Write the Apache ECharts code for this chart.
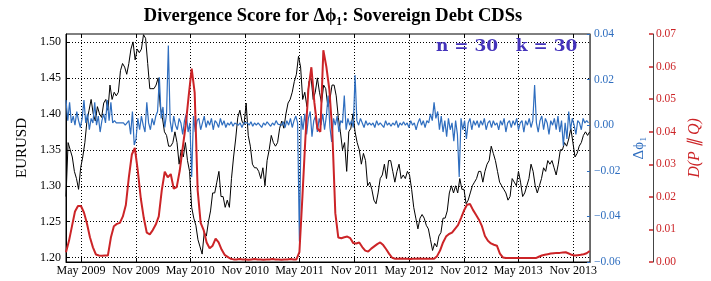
<!DOCTYPE html>
<html><head><meta charset="utf-8">
<script src="https://cdn.jsdelivr.net/npm/echarts@6/dist/echarts.min.js"></script>
<style>html,body{margin:0;padding:0;background:#fff}#c{width:711px;height:281px}</style>
</head><body><div id="c"></div>
<script>
const startDate = '2009-03-12';
const endDate = '2013-12-27';

// EURUSD, one value every 7 days from startDate
const eurusdStepDays = 7;
const eurusd = [
1.285,1.36,1.35,1.34,1.32,1.31,1.295,1.325,1.34,1.36,
1.39,1.405,1.42,1.40,1.39,1.41,1.40,1.395,1.415,1.42,
1.405,1.44,1.42,1.43,1.425,1.43,1.46,1.47,1.465,1.455,
1.47,1.49,1.50,1.475,1.49,1.485,1.49,1.51,1.505,1.47,
1.435,1.435,1.435,1.44,1.45,1.41,1.395,1.375,1.37,1.355,
1.355,1.36,1.375,1.36,1.33,1.35,1.34,1.36,1.335,1.32,
1.27,1.255,1.245,1.225,1.215,1.205,1.235,1.23,1.25,1.265,
1.29,1.29,1.305,1.32,1.285,1.285,1.27,1.28,1.27,1.31,
1.34,1.365,1.395,1.405,1.39,1.385,1.415,1.37,1.355,1.33,
1.325,1.325,1.32,1.31,1.325,1.30,1.335,1.35,1.37,1.36,
1.355,1.36,1.38,1.39,1.38,1.40,1.415,1.42,1.43,1.445,
1.455,1.48,1.465,1.42,1.43,1.41,1.445,1.45,1.42,1.43,
1.45,1.43,1.415,1.44,1.435,1.41,1.42,1.44,1.44,1.425,
1.395,1.375,1.35,1.36,1.32,1.375,1.38,1.40,1.375,1.36,
1.35,1.33,1.345,1.335,1.30,1.305,1.295,1.28,1.275,1.29,
1.31,1.315,1.33,1.31,1.335,1.335,1.32,1.305,1.32,1.33,
1.31,1.315,1.31,1.32,1.315,1.295,1.27,1.255,1.24,1.255,
1.26,1.255,1.245,1.24,1.225,1.21,1.22,1.215,1.23,1.235,
1.255,1.255,1.265,1.29,1.30,1.29,1.30,1.29,1.31,1.295,
1.295,1.275,1.28,1.29,1.30,1.305,1.31,1.32,1.32,1.305,
1.32,1.33,1.335,1.355,1.345,1.335,1.32,1.305,1.30,1.295,
1.29,1.28,1.285,1.31,1.305,1.30,1.32,1.305,1.285,1.29,
1.30,1.31,1.33,1.32,1.30,1.29,1.30,1.31,1.325,1.32,
1.335,1.33,1.335,1.325,1.315,1.33,1.35,1.35,1.36,1.355,
1.365,1.38,1.36,1.34,1.345,1.355,1.36,1.37,1.375,1.37,
1.375
];

// Delta phi_1, one value every 6 days from startDate
const dphiStepDays = 6;
const dphi = [
0.011,0.002,0.010,0.001,0.004,0.000,0.006,0.002,-0.001,0.003,
0.011,0.001,0.005,-0.002,0.003,0.001,0.010,0.000,0.004,-0.003,
0.002,0.005,0.001,0.011,0.002,0.010,0.001,0.002,0.001,0.0005,
0.001,0.0005,0.001,0.000,0.001,0.002,-0.004,0.006,-0.0087,-0.006,
0.003,-0.002,0.004,0.000,-0.003,0.010,0.001,-0.002,0.003,0.000,
0.004,0.006,0.021,0.003,0.008,-0.001,0.005,0.035,0.002,-0.003,
0.004,0.000,-0.002,0.003,0.001,-0.004,0.002,0.005,-0.003,0.001,
-0.0227,0.004,-0.003,0.002,0.003,-0.002,0.001,0.004,-0.001,0.002,
0.000,0.003,-0.002,0.002,0.001,-0.001,0.003,0.000,0.002,-0.001,
0.001,0.000,0.0015,-0.0005,0.001,0.0005,0.000,0.001,-0.001,0.001,
0.0005,0.001,0.000,0.0015,-0.0005,0.001,0.000,0.001,0.0005,-0.001,
0.001,0.000,0.0015,0.0005,-0.0005,0.001,0.000,0.002,0.0005,0.001,
0.000,0.0015,-0.001,0.002,0.000,0.003,-0.001,0.002,0.004,0.001,
-0.051,0.004,-0.002,0.005,-0.004,0.003,0.006,-0.005,0.002,0.004,
-0.003,0.003,0.000,0.005,-0.002,0.004,0.013,-0.001,-0.0073,0.003,
0.000,0.004,-0.003,0.002,0.001,0.013,-0.002,0.003,0.000,0.002,
-0.001,0.022,0.002,0.000,0.003,0.001,-0.001,0.002,0.000,0.001,
0.000,0.001,-0.001,0.002,0.000,0.001,0.0005,-0.001,0.002,0.000,
0.001,-0.0005,0.001,0.000,0.002,-0.001,0.001,0.000,0.0015,0.000,
0.001,-0.001,0.002,0.000,0.001,-0.002,0.001,0.003,0.000,0.002,
-0.001,0.002,0.001,0.005,0.002,0.010,0.003,0.006,-0.002,0.004,
-0.003,0.002,-0.005,0.003,-0.002,0.001,-0.007,0.002,-0.004,-0.0227,
0.003,-0.002,0.002,-0.006,0.001,0.003,-0.002,0.002,0.000,0.002,
-0.001,0.002,0.000,0.003,-0.002,0.001,0.002,-0.001,0.002,0.000,
0.001,-0.002,0.002,0.000,0.003,-0.003,0.001,0.002,-0.001,0.002,
0.000,0.003,-0.002,0.001,0.002,-0.003,0.002,0.000,0.003,-0.001,
0.002,0.0176,0.001,-0.003,0.002,0.004,-0.002,0.003,0.001,-0.004,
0.002,0.000,0.003,-0.002,0.004,-0.003,0.002,-0.009,0.001,-0.006,
0.006,-0.002,0.003,0.000,-0.004,0.002,0.001,-0.002,0.003,0.001,
0.002,0.001
];

// D(P||Q), one value every 10 days from startDate
const divStepDays = 10;
const divergence = [
0.003,0.0065,0.011,0.0155,0.0172,0.0172,0.0152,0.0118,0.0076,0.0045,
0.0023,0.002,0.0019,0.002,0.002,0.0075,0.011,0.0117,0.012,0.014,
0.0175,0.026,0.033,0.035,0.028,0.0195,0.0135,0.009,0.0085,0.0098,
0.0115,0.014,0.022,0.0277,0.026,0.027,0.0225,0.023,0.028,0.035,
0.042,0.051,0.0594,0.052,0.022,0.012,0.0098,0.006,0.0042,0.005,
0.0072,0.006,0.0038,0.0022,0.0016,0.001,0.0008,0.0008,0.0009,0.0008,
0.0008,0.0007,0.0008,0.0009,0.0008,0.0008,0.0007,0.0008,0.0008,0.0009,
0.0008,0.0008,0.0007,0.0008,0.0008,0.0009,0.0008,0.0008,0.003,0.02,
0.038,0.053,0.0598,0.049,0.041,0.040,0.065,0.060,0.053,0.040,
0.015,0.0075,0.0073,0.0076,0.0078,0.0073,0.0058,0.0057,0.006,0.0046,
0.0035,0.0032,0.0041,0.0048,0.0055,0.006,0.0052,0.0039,0.0025,0.0013,
0.001,0.001,0.0011,0.001,0.001,0.0009,0.001,0.001,0.0011,0.001,
0.001,0.001,0.001,0.001,0.0018,0.0035,0.006,0.0078,0.0086,0.009,
0.0102,0.0113,0.0135,0.0158,0.0176,0.0178,0.016,0.0145,0.013,0.011,
0.008,0.0065,0.0057,0.0053,0.005,0.0026,0.0014,0.0012,0.0012,0.0012,
0.0012,0.0012,0.0012,0.0012,0.0012,0.0012,0.0012,0.0012,0.0016,0.002,
0.0022,0.0024,0.0026,0.0027,0.0028,0.0028,0.0029,0.003,0.0026,0.0022,
0.002,0.0021,0.0022,0.0024,0.0027,0.0034
];

const xTickDates = ['2009-05-01','2009-11-01','2010-05-01','2010-11-01','2011-05-01','2011-11-01','2012-05-01','2012-11-01','2013-05-01','2013-11-01'];
const xTickLabels = ['May 2009','Nov 2009','May 2010','Nov 2010','May 2011','Nov 2011','May 2012','Nov 2012','May 2013','Nov 2013'];
const leftTicks = [1.20,1.25,1.30,1.35,1.40,1.45,1.50];

const titleText = 'Divergence Score for Δϕ₁: Sovereign Debt CDSs';
const annotText = 'n = 30   k = 30';

const DAY = 86400000;
const t0 = Date.parse(startDate + 'T00:00:00Z');
const tEnd = Date.parse(endDate + 'T00:00:00Z');
const toSeries = (vals, step) => vals.map((v, i) => [t0 + i * step * DAY, v]);
const xTickTimes = xTickDates.map(d => Date.parse(d + 'T00:00:00Z'));
const labelOf = {};
xTickTimes.forEach((t, i) => { labelOf[t] = xTickLabels[i]; });

const SERIF = 'Liberation Serif';
const BLUE = '#2f6ebf';
const RED = '#cc2427';
const dotted = { color: '#000', width: 1, type: [1, 2] };

const chart = echarts.init(document.getElementById('c'), null, { renderer: 'canvas' });
chart.setOption({
  animation: false,
  backgroundColor: '#fff',
  title: [
    { text: titleText, left: 328, top: 2, textAlign: 'center',
      textStyle: { fontFamily: SERIF, fontWeight: 'bold', fontSize: 18.5, color: '#000' } },
    { text: annotText, left: 431, top: 33,
      textStyle: { fontFamily: 'DejaVu Serif', fontWeight: 'bold', fontSize: 17, color: '#4433bb' } }
  ],
  grid: { left: 66, right: 119, top: 34, bottom: 19, show: true, borderColor: '#000', borderWidth: 1, containLabel: false },
  xAxis: [{
    type: 'value', min: t0, max: tEnd, scale: true,
    axisLine: { onZero: false, lineStyle: { color: '#000' } },
    axisTick: { inside: true, length: 4, customValues: xTickTimes, lineStyle: { color: '#000' } },
    axisLabel: { customValues: xTickTimes, formatter: v => labelOf[v] || '', fontFamily: SERIF, fontSize: 12, color: '#000', margin: 3, hideOverlap: false },
    splitLine: { show: true, lineStyle: dotted }
  }, {
    type: 'value', min: t0, max: tEnd, scale: true, position: 'top',
    axisLine: { show: false, onZero: false },
    axisTick: { inside: true, length: 4, customValues: xTickTimes, lineStyle: { color: '#000' } },
    axisLabel: { show: false },
    splitLine: { show: false }
  }],
  yAxis: [{
    type: 'value', min: 1.194, max: 1.511, position: 'left',
    name: 'EURUSD', nameLocation: 'middle', nameGap: 35,
    nameTextStyle: { fontFamily: SERIF, fontSize: 15, color: '#000' },
    axisLine: { show: true, onZero: false, lineStyle: { color: '#000' } },
    axisTick: { show: true, inside: true, length: 3, customValues: leftTicks, lineStyle: { color: '#000' } },
    axisLabel: { customValues: leftTicks, formatter: v => v.toFixed(2), fontFamily: SERIF, fontSize: 12, color: '#000', margin: 5 },
    splitLine: { show: true, lineStyle: dotted }
  }, {
    type: 'value', min: -0.06, max: 0.04, interval: 0.02, position: 'right',
    name: 'Δϕ₁', nameLocation: 'middle', nameGap: 36,
    nameTextStyle: { fontFamily: SERIF, fontSize: 15, color: BLUE },
    axisLine: { show: true, onZero: false, lineStyle: { color: '#666' } },
    axisTick: { show: true, inside: true, length: 3, lineStyle: { color: BLUE } },
    axisLabel: { formatter: v => v.toFixed(2).replace('-', '−'), fontFamily: SERIF, fontSize: 11.5, color: BLUE, margin: 4 },
    splitLine: { show: false }
  }, {
    type: 'value', min: 0, max: 0.07, interval: 0.01, position: 'right', offset: 63,
    name: 'D(P ∥ Q)', nameLocation: 'middle', nameGap: 29,
    nameTextStyle: { fontFamily: SERIF, fontSize: 16, fontStyle: 'italic', color: RED },
    axisLine: { show: true, onZero: false, lineStyle: { color: '#444' } },
    axisTick: { show: true, inside: true, length: 4, lineStyle: { color: RED, width: 1.5 } },
    axisLabel: { formatter: v => v.toFixed(2), fontFamily: SERIF, fontSize: 11.5, color: RED, margin: 3 },
    splitLine: { show: false }
  }],
  series: [
    { name: 'EURUSD', type: 'line', yAxisIndex: 0, data: toSeries(eurusd, eurusdStepDays), showSymbol: false,
      lineStyle: { color: '#000', width: 1 }, z: 2 },
    { name: 'dphi', type: 'line', yAxisIndex: 1, data: toSeries(dphi, dphiStepDays), showSymbol: false,
      lineStyle: { color: BLUE, width: 1.2 }, z: 3 },
    { name: 'D', type: 'line', yAxisIndex: 2, data: toSeries(divergence, divStepDays), showSymbol: false,
      lineStyle: { color: RED, width: 2 }, z: 4 }
  ]
});
</script></body></html>
